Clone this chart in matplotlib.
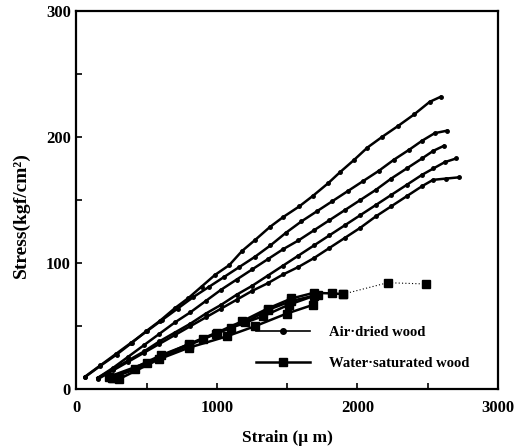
import matplotlib
matplotlib.use("Agg")
import matplotlib.pyplot as plt
from matplotlib.lines import Line2D

plt.rcParams['font.family'] = ['Liberation Serif', 'DejaVu Serif']
plt.rcParams['font.weight'] = 'bold'

# ---- data (strain in micro-m, stress in kgf/cm2) ----
air1_x = [60, 167, 286, 392, 494, 594, 700, 795, 890, 985, 1087, 1179, 1274, 1376, 1471, 1585, 1685, 1791, 1874, 1974, 2071, 2175, 2289, 2403, 2514, 2592]
air1_y = [9.7, 18.4, 27.6, 36.7, 45.9, 54.3, 64.3, 72.2, 81.4, 90.6, 98.4, 109.7, 118.6, 128.6, 136.5, 144.9, 153.5, 163.3, 171.9, 181.6, 191.6, 200, 208.7, 217.8, 227.8, 231.8]

air2_x = [60, 170, 280, 390, 500, 610, 720, 830, 940, 1050, 1160, 1270, 1380, 1490, 1600, 1710, 1820, 1930, 2040, 2150, 2260, 2370, 2460, 2550, 2640]
air2_y = [10, 19, 28, 37, 46, 55, 64, 73, 81, 89, 97, 105, 114, 124, 133, 141, 149, 157, 165, 173, 182, 190, 197, 203, 205]

air3_x = [150, 260, 370, 480, 590, 700, 810, 920, 1030, 1140, 1250, 1360, 1470, 1580, 1690, 1800, 1910, 2020, 2130, 2240, 2350, 2460, 2540, 2616]
air3_y = [9, 17, 26, 35, 44, 53, 61, 70, 79, 87, 95, 103, 111, 118, 126, 134, 142, 150, 158, 167, 175, 183, 189, 193]

air4_x = [150, 260, 370, 480, 590, 700, 810, 920, 1030, 1140, 1250, 1360, 1470, 1580, 1690, 1800, 1910, 2020, 2130, 2240, 2350, 2460, 2540, 2621, 2704]
air4_y = [9, 16, 23, 30, 38, 45, 52, 60, 67, 75, 82, 90, 98, 106, 114, 122, 130, 138, 146, 154, 162, 170, 175, 180, 183]

air5_x = [150, 260, 370, 480, 590, 700, 810, 920, 1030, 1140, 1250, 1360, 1470, 1580, 1690, 1800, 1910, 2020, 2130, 2240, 2350, 2460, 2538, 2630, 2723]
air5_y = [8, 15, 22, 29, 36, 43, 50, 57, 64, 71, 78, 84, 91, 97, 104, 112, 120, 128, 137, 145, 153, 161, 166, 167, 168]

wat1_x = [230, 500, 800, 1000, 1180, 1360, 1530, 1690, 1820, 1900]
wat1_y = [10, 21, 36, 45, 54, 64, 72, 76.5, 76, 75.5]
wat1_ext_x = [1900, 2215, 2485]
wat1_ext_y = [75.5, 84.5, 83.5]

wat2_x = [260, 600, 900, 1100, 1330, 1510, 1690]
wat2_y = [9, 27, 40, 49, 58, 67, 74]

wat3_x = [300, 590, 800, 1070, 1270, 1495, 1685]
wat3_y = [8, 24, 33, 42, 50, 60, 67]

wat4_x = [250, 420, 800, 990, 1200, 1364, 1530, 1720]
wat4_y = [9, 16, 35, 44, 53, 63, 70, 75]

legend_labels = ["Air\u00b7dried wood", "Water\u00b7saturated wood"]
x_ticks = [0, 1000, 2000, 3000]
y_ticks = [0, 100, 200, 300]

# ---- figure ----
fig = plt.figure(figsize=(5.30, 4.46), dpi=100)
ax = fig.add_axes([0.1443, 0.127, 0.7953, 0.849])

air_kw = dict(color='black', lw=1.8, marker='o', ms=2.5, mfc='black', mec='black')
for xs, ys in [(air1_x, air1_y), (air2_x, air2_y), (air3_x, air3_y), (air4_x, air4_y), (air5_x, air5_y)]:
    ax.plot(xs, ys, **air_kw)

wat_kw = dict(color='black', lw=1.8, marker='s', ms=5.5, mfc='black', mec='black')
for xs, ys in [(wat1_x, wat1_y), (wat2_x, wat2_y), (wat3_x, wat3_y), (wat4_x, wat4_y)]:
    ax.plot(xs, ys, **wat_kw)
ax.plot(wat1_ext_x, wat1_ext_y, color='black', lw=0.8, ls=(0, (1, 2)),
        marker='s', ms=5.5, mfc='black', mec='black')

ax.set_xlim(0, 3000)
ax.set_ylim(0, 300)
ax.set_xticks(x_ticks)
ax.set_xticks([500, 1500, 2500], minor=True)
ax.set_yticks(y_ticks)
ax.set_yticks([50, 150, 250], minor=True)
ax.tick_params(which='both', direction='in', length=4, width=1.2, labelsize=12)
ax.tick_params(axis='x', pad=8)
ax.tick_params(axis='y', pad=4)
for lab in ax.get_xticklabels() + ax.get_yticklabels():
    lab.set_fontweight('bold')
for sp in ax.spines.values():
    sp.set_linewidth(1.6)

ax.set_xlabel("Strain (\u03bc m)", fontsize=12.5, fontweight='bold', labelpad=10)
ax.set_ylabel("Stress(kgf/cm\u00b2)", fontsize=14, fontweight='bold', labelpad=10)
ax.yaxis.set_label_coords(-0.11, 0.46)

handles = [
    Line2D([], [], color='black', lw=1.2, marker='o', ms=4, mfc='black'),
    Line2D([], [], color='black', lw=1.8, marker='s', ms=6, mfc='black'),
]
leg = ax.legend(handles, legend_labels, loc='center left', bbox_to_anchor=(0.395, 0.11),
                frameon=False, handlelength=3.7, handletextpad=1.3, labelspacing=1.2,
                prop={'family': ['Liberation Serif'], 'weight': 'bold', 'size': 10.5})

fig.savefig("out.png", dpi=100)
